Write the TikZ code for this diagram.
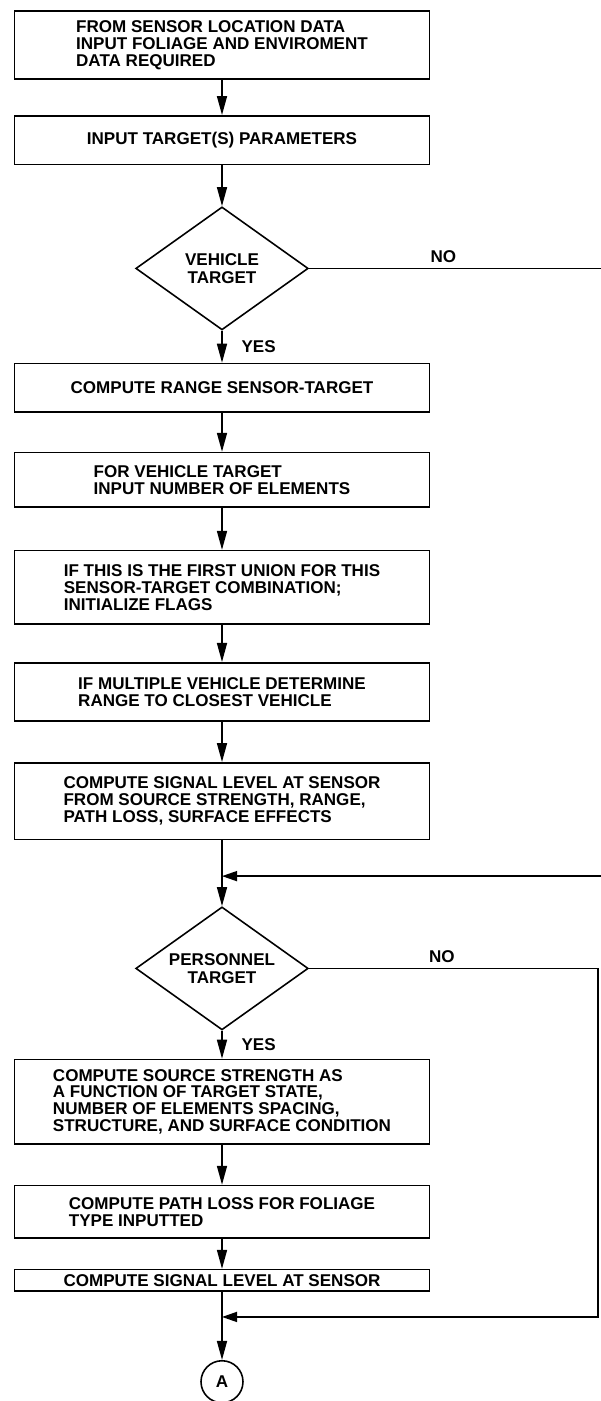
\documentclass[tikz,border=0pt]{standalone}
\usepackage{fontspec}
\setmainfont{Liberation Sans}
\usetikzlibrary{arrows.meta,positioning,calc,shapes.geometric}

\begin{document}
\begin{tikzpicture}[
  font=\fontsize{9.7}{9.6}\selectfont\bfseries,
  box/.style={draw,line width=0.9pt,align=left,minimum width=8.3cm,inner sep=3pt},
  decide/.style={draw,diamond,aspect=1.43,line width=0.9pt,align=center,minimum width=3.45cm,minimum height=2.46cm,inner sep=0pt,font=\fontsize{9.7}{10.3}\selectfont\bfseries},
  conn/.style={draw,circle,line width=0.9pt,minimum size=0.84cm,inner sep=0pt},
  lbl/.style={inner sep=1pt},
  arr/.style={-{Triangle[length=0.38cm,width=0.2cm]},line width=0.9pt},
  back/.style={-{Triangle[length=0.3cm,width=0.2cm]},line width=0.9pt}
]
\useasboundingbox (0,0) rectangle (12,-28.02);
\node[box,minimum height=1.37cm] (foliage) at (4.44,-0.9) {FROM SENSOR LOCATION DATA\\INPUT FOLIAGE AND ENVIROMENT\\DATA REQUIRED};
\node[box,minimum height=0.97cm,below=0.7cm of foliage] (params) {INPUT TARGET(S) PARAMETERS};
\node[decide,below=0.82cm of params] (vehicle) {VEHICLE\\TARGET};
\node[box,minimum height=0.97cm,below=0.64cm of vehicle] (range) {COMPUTE RANGE SENSOR-TARGET};
\node[box,minimum height=1.09cm,below=0.78cm of range] (elements) {FOR VEHICLE TARGET\\INPUT NUMBER OF ELEMENTS};
\node[box,minimum height=1.47cm,below=0.84cm of elements] (flags) {IF THIS IS THE FIRST UNION FOR THIS\\SENSOR-TARGET COMBINATION;\\INITIALIZE FLAGS};
\node[box,minimum height=1.17cm,below=0.74cm of flags] (closest) {IF MULTIPLE VEHICLE DETERMINE\\RANGE TO CLOSEST VEHICLE};
\node[box,minimum height=1.53cm,below=0.8cm of closest] (signal) {COMPUTE SIGNAL LEVEL AT SENSOR\\FROM SOURCE STRENGTH, RANGE,\\PATH LOSS, SURFACE EFFECTS};
\node[decide,below=1.32cm of signal] (personnel) {PERSONNEL\\TARGET};
\node[box,minimum height=1.69cm,below=0.56cm of personnel] (source) {COMPUTE SOURCE STRENGTH AS\\A FUNCTION OF TARGET STATE,\\NUMBER OF ELEMENTS SPACING,\\STRUCTURE, AND SURFACE CONDITION};
\node[box,minimum height=1.05cm,below=0.8cm of source] (pathloss) {COMPUTE PATH LOSS FOR FOLIAGE\\TYPE INPUTTED};
\node[box,minimum height=0.43cm,inner ysep=1pt,below=0.6cm of pathloss] (level) {COMPUTE SIGNAL LEVEL AT SENSOR};
\node[conn,below=1.36cm of level] (conA) {A};

% loop junctions and the right-hand return line
\coordinate (j1) at ($(personnel.north)+(0,0.6)$);
\coordinate (j2) at ($(conA.north)+(0,0.86)$);
\coordinate (farR) at (12.15,0);
\coordinate (edgeR) at (11.96,0);

\draw[arr] (foliage) -- (params);
\draw[arr] (params) -- (vehicle);
\draw[arr] (vehicle) -- node[lbl,right=0.34cm] (yes1) {YES} (range);
\draw[arr] (range) -- (elements);
\draw[arr] (elements) -- (flags);
\draw[arr] (flags) -- (closest);
\draw[arr] (closest) -- (signal);
\draw[arr] (signal) -- (personnel);
\draw[arr] (personnel) -- node[lbl,right=0.34cm] (yes2) {YES} (source);
\draw[arr] (source) -- (pathloss);
\draw[arr] (pathloss) -- (level);
\draw[arr] (level) -- (conA);
\draw[back] (vehicle.east) -- node[lbl,above=0.06cm,pos=0.45] (no1) {NO} (vehicle.east -| farR) |- (j1);
\draw[back] (personnel.east) -- node[lbl,above=0.06cm,pos=0.46] (no2) {NO} (personnel.east -| edgeR) |- (j2);
\end{tikzpicture}
\end{document}
